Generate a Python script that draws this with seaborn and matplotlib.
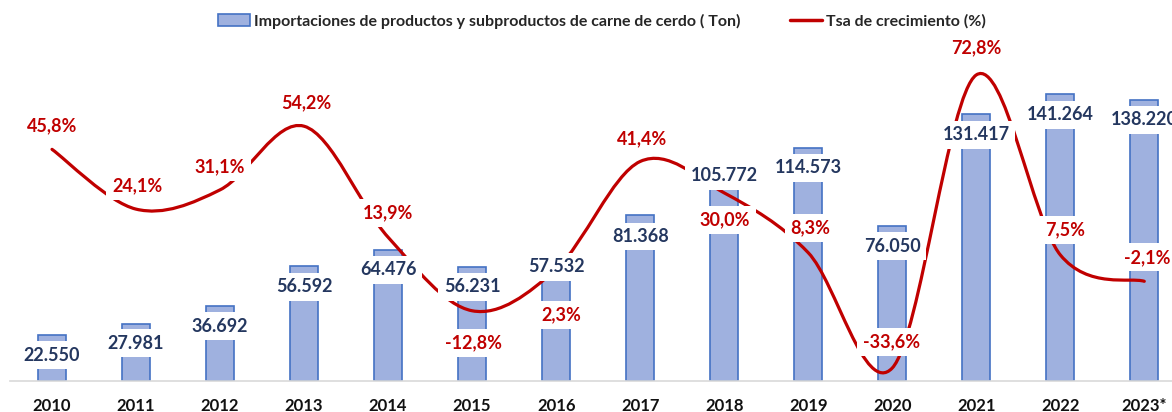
import numpy as np
import pandas as pd
import matplotlib
matplotlib.use('Agg')
import matplotlib.pyplot as plt
import seaborn as sns
from matplotlib.path import Path
from matplotlib.patches import PathPatch, Patch
from matplotlib.lines import Line2D

# ---------------- data ----------------
years = ['2010', '2011', '2012', '2013', '2014', '2015', '2016',
         '2017', '2018', '2019', '2020', '2021', '2022', '2023*']
imports_ton = [22550, 27981, 36692, 56592, 64476, 56231, 57532,
               81368, 105772, 114573, 76050, 131417, 141264, 138220]
growth_pct = [45.8, 24.1, 31.1, 54.2, 13.9, -12.8, 2.3,
              41.4, 30.0, 8.3, -33.6, 72.8, 7.5, -2.1]

bar_name = 'Importaciones de productos y subproductos de carne de cerdo ( Ton)'
line_name = 'Tsa de crecimiento (%)'

# ---------------- label layout (pixels) ----------------
bar_label_dy = [20, 19, 20, 21, 20, 20, 3, 21, 10, 20, 20, 21, 21, 20]
rate_label_dy = [-23.5, -23, -23, -23, -24, 32, 46, -22.5, 27, -25, -26, -27, -25, -24]
rate_label_dx = [0, 1, 0, 2, 0, 1, 5, 2, 1, 2, -1, 0, 5, 3]

BAR_FILL = '#9FB1DF'
BAR_EDGE = '#4472C4'
RED = '#C00000'
NAVY = '#24375F'

sns.set_style('white')
plt.rcParams['font.family'] = ['Lato', 'DejaVu Sans']

W, H = 1172, 412
fig = plt.figure(figsize=(W / 100, H / 100), dpi=100)
ax = fig.add_axes([10 / W, (H - 381) / H, 1162 / W, 341 / H])

df = pd.DataFrame({'year': years, 'imports': imports_ton})
sns.barplot(data=df, x='year', y='imports', color=BAR_FILL, saturation=1,
            width=0.33, edgecolor=BAR_EDGE, linewidth=1.2, ax=ax, zorder=1)

ax.set_xlim(-0.5, 13.33)
ax.set_ylim(0, 167600)
ax.set_xlabel('')
ax.set_ylabel('')
ax.set_yticks([])
for s in ['left', 'right', 'top']:
    ax.spines[s].set_visible(False)
ax.spines['bottom'].set_color('#D9D9D9')
ax.spines['bottom'].set_linewidth(1.2)
ax.tick_params(axis='x', length=0, pad=12, labelsize=12)
for t in ax.get_xticklabels():
    t.set_fontweight('bold')
    t.set_color('#111111')

# secondary axis with smoothed line
ax2 = ax.twinx()
ax2.set_ylim(-38.3, 85.5)
ax2.set_yticks([])
for s in ax2.spines.values():
    s.set_visible(False)

xs = np.arange(len(growth_pct), dtype=float)
ys = np.array(growth_pct, dtype=float)
n = len(xs)
verts = [(xs[0], ys[0])]
codes = [Path.MOVETO]
for i in range(n - 1):
    p0 = np.array([xs[max(i - 1, 0)], ys[max(i - 1, 0)]])
    p1 = np.array([xs[i], ys[i]])
    p2 = np.array([xs[i + 1], ys[i + 1]])
    p3 = np.array([xs[min(i + 2, n - 1)], ys[min(i + 2, n - 1)]])
    c1 = p1 + (p2 - p0) / 6.0
    c2 = p2 - (p3 - p1) / 6.0
    verts += [tuple(c1), tuple(c2), tuple(p2)]
    codes += [Path.CURVE4] * 3
curve = PathPatch(Path(verts, codes), facecolor='none', edgecolor=RED,
                  linewidth=2.3, capstyle='round', zorder=3)
ax2.add_patch(curve)

px = 0.72  # points per pixel at 100 dpi
for i, v in enumerate(imports_ton):
    ax2.annotate(f'{v:,}'.replace(',', '.'), xy=(i, v), xycoords=ax.transData,
                 xytext=(0, -bar_label_dy[i] * px), textcoords='offset points',
                 ha='center', va='center', fontsize=13, fontweight='bold',
                 color=NAVY, zorder=10, annotation_clip=False,
                 bbox=dict(boxstyle='square,pad=0.3', fc='white', ec='none'))
for i, g in enumerate(growth_pct):
    ax2.annotate(f'{g:.1f}%'.replace('.', ','), xy=(i, g),
                 xytext=(rate_label_dx[i] * px, -rate_label_dy[i] * px),
                 textcoords='offset points', ha='center', va='center',
                 fontsize=13, fontweight='bold', color=RED, zorder=11,
                 annotation_clip=False,
                 bbox=dict(boxstyle='square,pad=0.3', fc='white', ec='none'))

handles = [Patch(facecolor=BAR_FILL, edgecolor=BAR_EDGE, linewidth=1.2, label=bar_name),
           Line2D([0], [0], color=RED, linewidth=2.5, label=line_name)]
fig.legend(handles=handles, loc='center', bbox_to_anchor=(602 / W, 1 - 21 / H),
           ncol=2, frameon=False, prop={'weight': 'bold', 'size': 11.5},
           columnspacing=3.1, handlelength=2.0, handletextpad=0.25,
           handleheight=0.7)

fig.savefig('out.png', dpi=100)
